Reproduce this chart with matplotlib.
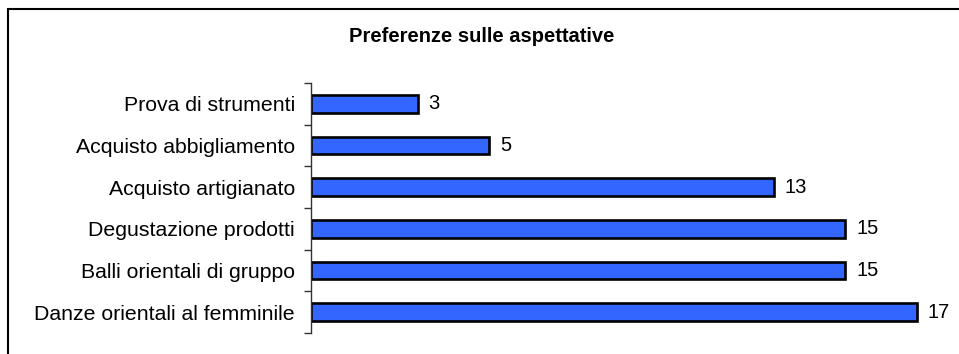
import matplotlib.pyplot as plt
import matplotlib.patches as patches
import numpy as np

plt.rcParams['font.family'] = ['Liberation Sans', 'DejaVu Sans']

categories = ['Prova di strumenti', 'Acquisto abbigliamento', 'Acquisto artigianato',
              'Degustazione prodotti', 'Balli orientali di gruppo', 'Danze orientali al femminile']
values = [3, 5, 13, 15, 15, 17]
title = 'Preferenze sulle aspettative'

W, H = 959, 354
fig = plt.figure(figsize=(W / 100, H / 100), dpi=100)

# frame around the whole chart area
fig.add_artist(patches.Rectangle((8 / W, -0.05), 1.1, 1 - 9 / H + 0.05,
                                 transform=fig.transFigure, fill=False,
                                 edgecolor='black', linewidth=1.5))

left, right, top, bottom = 311, 950, 83, 333
ax = fig.add_axes([left / W, 1 - bottom / H, (right - left) / W, (bottom - top) / H])

n = len(categories)
pos = np.arange(n)
ax.barh(pos, values, height=0.43, color='#3366FF', edgecolor='black', linewidth=1.9)
for p, v in zip(pos, values):
    ax.text(v + 0.3, p, str(v), va='center', ha='left', fontsize=14.5)

ax.set_xlim(0, (right - left) / 35.63)
ax.set_ylim(n - 0.5, -0.5)

# ticks at category boundaries, labels at the centres
ax.set_yticks(np.arange(n + 1) - 0.5)
ax.set_yticklabels([])
ax.set_yticks(pos, minor=True)
ax.set_yticklabels(categories, minor=True, fontsize=15.3)
ax.tick_params(axis='y', which='major', length=5, width=1, color='#333333')
ax.tick_params(axis='y', which='minor', length=0, pad=11.5)
ax.set_xticks([])

for s in ['top', 'right', 'bottom']:
    ax.spines[s].set_visible(False)
ax.spines['left'].set_color('#333333')
ax.spines['left'].set_linewidth(1)

fig.text(482 / W, 1 - 42 / H, title, ha='center', va='baseline', fontsize=14.5, fontweight='bold')

fig.savefig('out.png', dpi=100)
